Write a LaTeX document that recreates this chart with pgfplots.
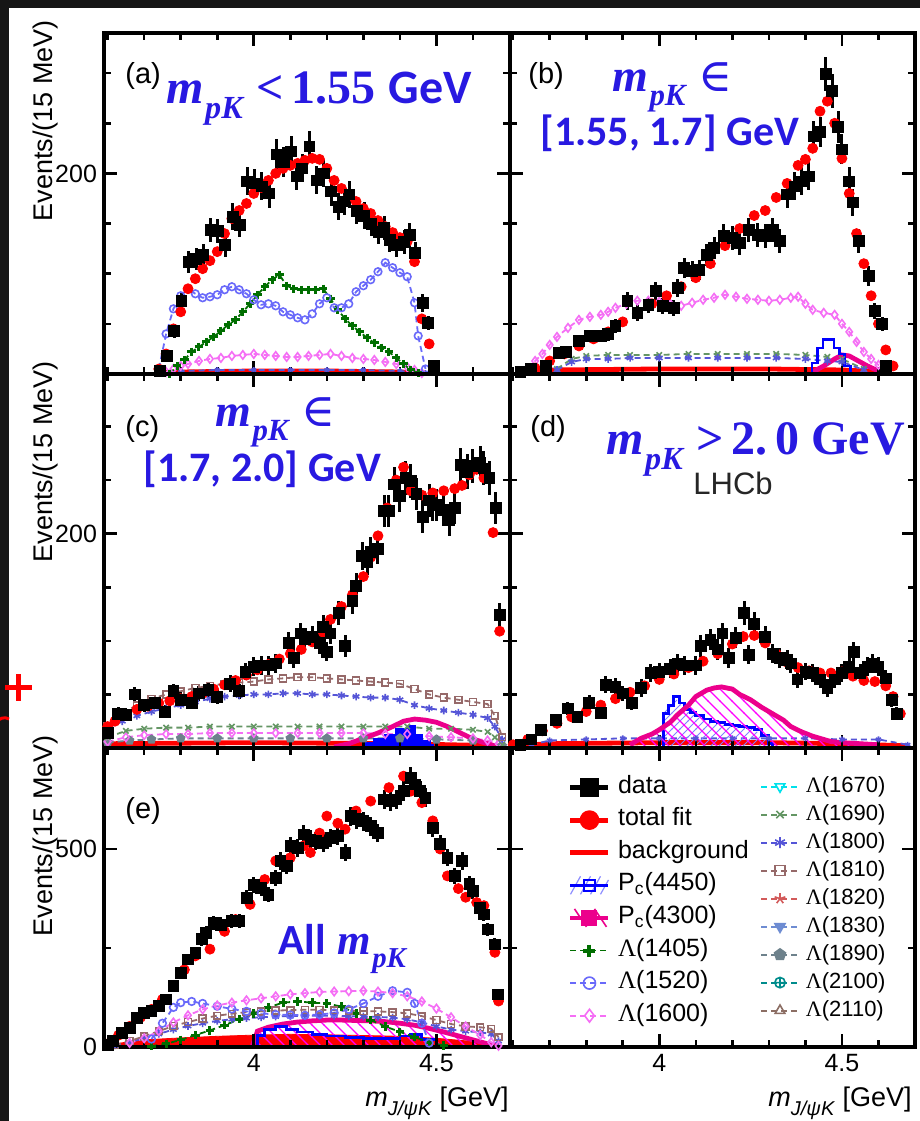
\documentclass[border=0pt]{standalone}
\usepackage{fontspec}
\setmainfont{Liberation Sans}
\newfontfamily\timesf{Liberation Serif}
\newfontfamily\carl{Carlito}
\newfontfamily\djv{DejaVu Serif}
\usepackage{pgfplots}
\usepackage{pgfplotstable}
\pgfplotsset{compat=1.18}
\usetikzlibrary{patterns,plotmarks}

\definecolor{annot}{RGB}{40,25,225}
\definecolor{c1405}{RGB}{0,110,0}
\definecolor{c1520}{RGB}{105,105,250}
\definecolor{c1600}{RGB}{245,110,245}
\definecolor{c1670}{RGB}{0,225,235}
\definecolor{c1690}{RGB}{100,150,100}
\definecolor{c1800}{RGB}{85,85,215}
\definecolor{c1810}{RGB}{150,105,105}
\definecolor{c1820}{RGB}{210,90,90}
\definecolor{c1830}{RGB}{110,140,210}
\definecolor{c1890}{RGB}{110,130,140}
\definecolor{c2100}{RGB}{0,140,140}
\definecolor{c2110}{RGB}{140,110,100}
\definecolor{darkbg}{RGB}{22,22,22}

\pgfdeclarepatternformonly{hatchNW}{\pgfqpoint{-1pt}{-1pt}}{\pgfqpoint{7pt}{7pt}}{\pgfqpoint{6pt}{6pt}}{%
  \pgfsetlinewidth{0.7pt}%
  \pgfpathmoveto{\pgfqpoint{-0.1pt}{6.1pt}}%
  \pgfpathlineto{\pgfqpoint{6.1pt}{-0.1pt}}%
  \pgfusepath{stroke}}
\pgfdeclarepatternformonly{hatchNE}{\pgfqpoint{-1pt}{-1pt}}{\pgfqpoint{5pt}{5pt}}{\pgfqpoint{4pt}{4pt}}{%
  \pgfsetlinewidth{0.45pt}%
  \pgfpathmoveto{\pgfqpoint{-0.1pt}{-0.1pt}}%
  \pgfpathlineto{\pgfqpoint{4.1pt}{4.1pt}}%
  \pgfusepath{stroke}}

\newcommand{\mpk}{{\timesf\bfseries\itshape m\kern0.03em\raisebox{-0.3em}{\fontsize{0.67\fontdimen6\font}{1em}\selectfont pK}}}
\newcommand{\Lam}{{\timesf Λ}}

\pgfplotsset{
  panel/.style={
    scale only axis, width=202.75pt,
    xmin=3.59, xmax=4.70,
    axis line style={line width=2pt},
    tick style={black, line width=1.3pt},
    major tick length=6.5pt, minor tick length=3.5pt,
    tick align=inside,
    xtick={4,4.5}, minor xtick={3.6,3.7,3.8,3.9,4.1,4.2,4.3,4.4,4.6},
    xticklabels={},
    tick label style={font=\fontsize{12.5}{14}\selectfont},
    /pgf/number format/assume math mode=true,
    axis on top,
    anchor=south west,
  },
  row1/.style={height=170.5pt, ymin=0, ymax=340, ytick={200}, minor ytick={50,100,150,250,300}},
  row2/.style={height=187pt, ymin=0, ymax=349, ytick={200}, minor ytick={50,100,150,250,300}},
  row3/.style={height=149.5pt, ymin=0, ymax=755, ytick={0,500}, minor ytick={250}},
  sdata/.style={only marks, mark=square*, mark size=2.7pt, black,
    error bars/.cd, y dir=both, y explicit, x dir=both, x fixed=0.0075,
    error mark=none, error bar style={line width=1.5pt, black}},
  sfit/.style={only marks, mark=*, mark size=2.5pt, red,
    error bars/.cd, y dir=both, y fixed=#1, error mark=none, error bar style={line width=1.1pt, red}},
  sbkg/.style={red, line width=2.4pt, no marks},
  sL1405/.style={color=c1405, densely dashed, line width=0.9pt, mark=+, mark size=2.1pt, mark options={solid, line width=1.5pt}},
  sL1520/.style={color=c1520, densely dashed, line width=0.9pt, mark=o, mark size=1.9pt, mark options={solid, line width=0.8pt}},
  sL1600/.style={color=c1600, densely dashed, line width=0.9pt, mark=diamond, mark size=2.1pt, mark options={solid, line width=0.8pt}},
  sL1670/.style={color=c1670, densely dashed, line width=0.9pt, mark=triangle, mark size=2.1pt, mark options={solid, rotate=180, line width=0.8pt}},
  sL1690/.style={color=c1690, densely dashed, line width=0.9pt, mark=x, mark size=1.9pt, mark options={solid, line width=0.8pt}},
  sL1800/.style={color=c1800, densely dashed, line width=0.9pt, mark=asterisk, mark size=1.9pt, mark options={solid, line width=0.8pt}},
  sL1810/.style={color=c1810, densely dashed, line width=0.9pt, mark=square, mark size=1.7pt, mark options={solid, line width=0.8pt}},
  sL1820/.style={color=c1820, densely dashed, line width=0.9pt, mark=star, mark size=2.1pt, mark options={solid, line width=0.8pt}},
  sL1830/.style={color=c1830, densely dashed, line width=0.9pt, mark=triangle*, mark size=2.1pt, mark options={solid, rotate=180}},
  sL1890/.style={color=c1890, densely dashed, line width=0.9pt, mark=pentagon*, mark size=2pt, mark options={solid}},
  sL2100/.style={color=c2100, densely dashed, line width=0.9pt, mark=oplus, mark size=2pt, mark options={solid, line width=0.8pt}},
  sL2110/.style={color=c2110, densely dashed, line width=0.9pt, mark=triangle, mark size=2.1pt, mark options={solid, line width=0.8pt}},
  sP4450/.style={color=blue, line width=1.4pt, no marks},
  sP4300/.style={color=magenta, line width=2.4pt, no marks},
  legimg/.style={legend image code/.code={\draw[mark repeat=2,mark phase=2] plot coordinates {(0pt,0pt)(9.5pt,0pt)(19pt,0pt)};}},
}

% ---------------- panel (a) ----------------
\pgfplotstableread{
x y e
3.742 3 2
3.762 18 5
3.782 43 7
3.802 73 9
3.822 112 11
3.842 115 11
3.862 119 11
3.882 144 12
3.902 143 12
3.922 129 12
3.942 157 13
3.962 149 12
3.982 192 14
4.002 190 14
4.022 187 14
4.042 180 14
4.062 219 15
4.082 211 15
4.102 222 15
4.117 197 14
4.132 205 14
4.152 227 15
4.172 193 14
4.192 200 14
4.212 182 14
4.232 167 13
4.247 172 13
4.262 179 13
4.282 163 13
4.302 158 13
4.322 150 12
4.342 142 12
4.357 146 12
4.372 134 12
4.392 129 12
4.412 132 12
4.427 139 12
4.442 121 11
4.462 71 9
4.477 51 7
4.492 8 3
}\dataA
\pgfplotstableread{
x y
3.74 5
3.76 20
3.78 45
3.80 62
3.82 85
3.84 95
3.86 105
3.88 113
3.90 122
3.92 140
3.94 155
3.96 163
3.98 170
4.00 180
4.02 186
4.04 193
4.06 200
4.08 205
4.10 208
4.12 210
4.14 213
4.16 215
4.18 214
4.20 205
4.22 193
4.24 185
4.26 177
4.28 172
4.30 165
4.32 160
4.34 153
4.36 147
4.38 141
4.40 136
4.42 132
4.44 112
4.46 55
4.48 30
}\fitA
\pgfplotstableread{
x y
3.74 5
3.76 40
3.78 65
3.80 78
3.82 85
3.84 80
3.86 76
3.88 77
3.90 79
3.92 84
3.94 87
3.96 84
3.98 80
4.00 74
4.02 69
4.04 70
4.06 68
4.08 62
4.10 59
4.12 56
4.14 54
4.16 60
4.18 70
4.20 76
4.22 66
4.24 66
4.26 70
4.28 82
4.30 88
4.32 94
4.34 102
4.36 111
4.38 106
4.40 101
4.42 97
4.44 71
4.45 38
4.47 5
}\lfiveA
\pgfplotstableread{
x y
3.77 0
3.79 8
3.81 14
3.83 22
3.85 27
3.87 32
3.89 37
3.91 43
3.93 49
3.95 54
3.97 62
3.99 70
4.01 79
4.03 87
4.05 94
4.07 99
4.09 88
4.11 85
4.13 84
4.15 84
4.17 84
4.19 85
4.21 75
4.23 64
4.25 55
4.27 48
4.29 42
4.31 36
4.33 31
4.35 26
4.37 22
4.39 16
4.41 10
4.43 4
4.45 1
}\lfourA
\pgfplotstableread{
x y
3.76 2
3.78 5
3.80 8
3.82 10
3.85 13
3.88 15
3.91 16
3.94 18
3.97 19
4.00 20
4.03 19
4.06 18
4.09 17
4.12 17
4.15 18
4.18 19
4.21 20
4.24 18
4.27 16
4.30 15
4.33 14
4.36 12
4.39 10
4.42 7
4.44 4
4.46 1
}\lsixA
\pgfplotstableread{
x y
3.74 1
3.80 3
3.90 4
4.00 4
4.10 4
4.20 4
4.30 4
4.40 3
4.47 1
}\lsmallA
\pgfplotstableread{
x y
3.74 1
3.80 2
4.00 3
4.20 3
4.40 2
4.47 1
}\bkgA

% ---------------- panel (b) ----------------
\pgfplotstableread{
x y e
3.620 2 2
3.649 5 3
3.690 8 3
3.726 21 5
3.745 22 5
3.780 33 6
3.810 38 6
3.840 38 6
3.860 40 7
3.880 48 7
3.913 73 9
3.940 61 8
3.970 69 8
3.990 83 9
4.010 68 8
4.040 66 8
4.050 86 9
4.068 106 10
4.090 103 10
4.110 104 10
4.130 119 11
4.150 126 11
4.177 138 12
4.200 136 12
4.220 131 12
4.245 144 12
4.270 139 12
4.290 138 12
4.310 144 12
4.330 133 12
4.350 179 13
4.370 187 14
4.390 192 14
4.409 197 14
4.423 237 15
4.440 241 15
4.455 299 17
4.473 282 17
4.490 246 16
4.500 224 15
4.520 192 14
4.530 171 13
4.546 133 12
4.573 98 10
4.590 63 8
4.610 50 7
4.620 8 3
}\dataB
\pgfplotstableread{
x y
3.62 2
3.66 6
3.70 13
3.74 20
3.78 28
3.82 35
3.86 42
3.90 52
3.94 60
3.98 70
4.02 78
4.06 87
4.10 96
4.14 110
4.18 128
4.22 145
4.26 158
4.29 163
4.32 176
4.35 190
4.38 208
4.40 214
4.42 225
4.44 262
4.46 272
4.48 250
4.50 215
4.52 180
4.54 140
4.56 110
4.58 78
4.60 50
4.62 24
4.64 8
}\fitB
\pgfplotstableread{
x y
3.64 5
3.66 13
3.68 20
3.70 29
3.72 37
3.75 46
3.78 54
3.81 57
3.84 59
3.86 62
3.88 66
3.91 70
3.94 73
3.97 73
4.00 72
4.03 70
4.06 68
4.09 71
4.12 74
4.15 76
4.18 79
4.21 77
4.24 75
4.27 74
4.30 73
4.33 74
4.36 76
4.38 77
4.40 70
4.42 64
4.45 61
4.48 59
4.50 50
4.52 42
4.54 32
4.56 22
4.58 15
4.60 9
4.62 4
}\lsixB
\pgfplotstableread{
x y
3.72 5
3.76 15
3.80 18
3.86 19
3.92 19
4.00 19
4.08 20
4.16 20
4.24 20
4.32 20
4.40 19
4.46 17
4.50 15
4.56 5
}\lnineB
\pgfplotstableread{
x y
3.72 4
3.76 12
3.80 15
3.86 15
3.92 16
4.00 16
4.08 16
4.16 16
4.24 16
4.32 16
4.40 15
4.46 13
4.50 12
4.56 4
}\leightB
\pgfplotstableread{
x y
4.405 0
4.418 11
4.433 26
4.448 34
4.463 34
4.478 26
4.493 20
4.508 8
4.523 0
}\pcfourB
\pgfplotstableread{
x y
4.42 2
4.45 8
4.48 15
4.50 19
4.52 18
4.54 14
4.57 8
4.60 3
4.62 1
}\pcthreeB
\pgfplotstableread{
x y
3.66 2
3.70 4
4.00 5
4.30 5
4.50 4
4.62 2
}\bkgB

% ---------------- panel (c) ----------------
\pgfplotstableread{
x y e
3.600 14 5
3.629 32 6
3.650 31 6
3.674 50 7
3.700 40 6
3.730 42 6
3.757 34 6
3.780 53 7
3.800 45 7
3.830 42 6
3.850 51 7
3.876 54 7
3.900 48 7
3.935 60 8
3.960 53 7
3.977 71 8
4.000 76 9
4.020 77 9
4.040 77 9
4.060 79 9
4.096 98 10
4.110 84 9
4.128 107 10
4.140 102 10
4.160 104 10
4.180 98 10
4.190 113 11
4.200 90 9
4.210 107 10
4.233 126 11
4.250 95 10
4.270 137 12
4.280 151 12
4.297 179 13
4.310 174 13
4.320 183 14
4.340 186 14
4.357 221 15
4.370 221 15
4.384 246 16
4.400 235 15
4.416 252 16
4.430 249 16
4.445 237 15
4.462 216 15
4.480 231 15
4.490 227 15
4.500 227 15
4.520 222 15
4.535 213 15
4.550 224 15
4.567 264 16
4.585 258 16
4.600 263 16
4.620 266 16
4.630 261 16
4.645 252 16
4.663 224 15
4.673 124 11
}\dataC
\pgfplotstableread{
x y
3.60 20
3.62 25
3.65 31
3.68 36
3.71 39
3.74 42
3.77 44
3.80 46
3.83 48
3.86 51
3.89 55
3.92 59
3.95 63
3.98 68
4.01 73
4.04 78
4.07 83
4.10 88
4.13 92
4.16 99
4.19 108
4.21 120
4.24 132
4.27 143
4.30 160
4.32 178
4.34 198
4.365 224
4.39 250
4.41 262
4.43 240
4.46 236
4.49 238
4.52 240
4.55 242
4.57 245
4.59 255
4.61 260
4.63 252
4.655 201
4.673 109
}\fitC
\pgfplotstableread{
x y
3.60 20
3.64 32
3.68 40
3.72 46
3.76 50
3.80 53
3.84 56
3.88 58
3.92 60
3.96 61
4.00 62
4.04 64
4.08 65
4.12 66
4.16 66
4.20 65
4.24 64
4.28 63
4.32 62
4.36 61
4.40 60
4.44 55
4.48 50
4.52 47
4.56 45
4.60 43
4.64 41
4.66 30
4.68 10
}\ltenC
\pgfplotstableread{
x y
3.60 18
3.64 25
3.68 30
3.72 34
3.76 37
3.80 40
3.84 43
3.88 46
3.92 48
3.96 49
4.00 50
4.04 50
4.08 51
4.12 51
4.16 50
4.20 50
4.24 49
4.28 48
4.32 47
4.36 47
4.40 45
4.44 40
4.48 37
4.52 35
4.56 33
4.60 31
4.64 28
4.66 20
4.68 8
}\leightC
\pgfplotstableread{
x y
3.60 10
3.65 16
3.70 18
3.76 19
3.82 19
3.88 20
3.94 20
4.00 20
4.06 20
4.12 20
4.18 20
4.24 20
4.30 20
4.36 20
4.42 20
4.48 18
4.54 18
4.60 17
4.64 15
4.66 10
4.68 3
}\lnineC
\pgfplotstableread{
x y
3.60 6
3.65 10
3.70 12
3.76 13
3.82 13
3.88 14
3.94 14
4.00 14
4.06 14
4.12 14
4.18 14
4.24 14
4.30 14
4.36 13
4.42 13
4.48 11
4.54 10
4.60 9
4.64 7
4.67 4
}\lsixC
\pgfplotstableread{
x y
3.60 5
3.66 7
3.72 8
3.80 9
3.90 9
4.00 9
4.10 9
4.20 9
4.30 9
4.40 9
4.50 8
4.60 7
4.68 2
}\lgreyC
\pgfplotstableread{
x y
4.22 1
4.26 4
4.30 9
4.34 14
4.38 20
4.41 25
4.44 27
4.47 26
4.50 24
4.53 20
4.56 15
4.59 10
4.62 6
4.66 2
}\pcthreeC
\pgfplotstableread{
x y
4.29 0
4.30 4
4.33 8
4.36 12
4.39 17
4.42 20
4.44 12
4.46 6
4.48 2
4.49 0
}\pcfourC
\pgfplotstableread{
x y
3.60 4
4.00 5
4.40 4
4.68 2
}\bkgC

% ---------------- panel (d) ----------------
\pgfplotstableread{
x y e
3.620 3 2
3.650 8 3
3.676 17 4
3.717 26 5
3.749 37 6
3.776 29 5
3.808 42 7
3.840 33 6
3.854 59 8
3.880 57 8
3.900 51 7
3.925 42 7
3.950 56 8
3.977 70 8
4.000 71 8
4.030 74 9
4.050 79 9
4.070 77 9
4.100 77 9
4.113 95 10
4.140 101 10
4.160 92 10
4.173 107 10
4.190 84 9
4.210 103 10
4.232 126 11
4.245 87 9
4.260 116 11
4.290 104 10
4.310 88 9
4.330 84 9
4.350 82 9
4.360 79 9
4.378 64 8
4.400 71 8
4.420 70 8
4.440 64 8
4.460 56 8
4.480 64 8
4.500 70 8
4.520 76 9
4.532 90 9
4.550 70 8
4.570 76 9
4.585 79 9
4.600 76 9
4.620 65 8
4.637 45 7
4.650 32 6
}\dataD
\pgfplotstableread{
x y
3.60 3
3.64 8
3.68 16
3.72 23
3.76 29
3.80 34
3.84 40
3.88 46
3.92 52
3.96 58
4.00 64
4.04 69
4.08 75
4.12 81
4.16 88
4.20 97
4.23 104
4.26 105
4.29 98
4.32 88
4.35 80
4.38 75
4.41 72
4.44 70
4.47 70
4.50 71
4.53 67
4.56 63
4.59 62
4.62 58
4.64 48
4.66 32
}\fitD
\pgfplotstableread{
x y
3.92 3
3.95 9
3.98 13
4.00 17
4.03 24
4.05 31
4.08 40
4.10 48
4.13 54
4.15 56
4.17 57
4.20 55
4.22 50
4.25 45
4.28 38
4.31 32
4.34 26
4.36 20
4.39 15
4.42 11
4.45 8
4.47 6
4.50 5
4.55 4
4.60 3
}\pcthreeD
\pgfplotstableread{
x y
4.000 0
4.012 32
4.025 40
4.040 48
4.055 42
4.070 36
4.085 33
4.100 30
4.120 27
4.140 25
4.160 24
4.180 22
4.200 21
4.220 20
4.240 19
4.260 17
4.280 12
4.300 4
4.310 0
}\pcfourD
\pgfplotstableread{
x y
3.65 3
3.70 7
3.80 8
3.90 9
4.00 9
4.10 9
4.20 9
4.30 9
4.40 9
4.50 8
4.60 8
4.68 3
}\lflatD
\pgfplotstableread{
x y
3.60 2
3.70 4
4.00 5
4.30 5
4.50 4
4.68 2
}\bkgD

% ---------------- panel (e) ----------------
\pgfplotstableread{
x y e
3.600 5 3
3.615 15 4
3.640 36 6
3.660 48 7
3.680 74 9
3.700 87 9
3.720 91 10
3.740 104 10
3.760 120 11
3.780 154 12
3.800 188 14
3.820 221 15
3.840 238 15
3.858 272 16
3.870 289 17
3.890 314 18
3.910 309 18
3.940 318 18
3.960 318 18
3.981 377 19
4.000 410 20
4.020 402 20
4.040 385 20
4.060 427 21
4.073 470 22
4.090 457 21
4.100 508 23
4.120 503 22
4.137 537 23
4.155 524 23
4.170 520 23
4.190 516 23
4.210 528 23
4.230 533 23
4.251 491 22
4.265 583 24
4.280 575 24
4.300 570 24
4.320 558 24
4.340 541 23
4.357 625 25
4.375 621 25
4.390 625 25
4.410 646 25
4.430 680 26
4.440 663 26
4.455 646 25
4.470 630 25
4.490 554 24
4.510 512 23
4.530 478 22
4.550 432 21
4.570 470 22
4.590 411 20
4.600 394 20
4.618 352 19
4.630 335 18
4.640 297 17
4.659 259 16
4.668 133 12
}\dataE
\pgfplotstableread{
x y
3.60 8
3.63 30
3.66 52
3.69 75
3.72 95
3.75 120
3.78 155
3.81 195
3.84 230
3.88 247
3.92 292
3.95 322
3.99 360
4.03 423
4.06 470
4.10 478
4.137 508
4.155 491
4.18 540
4.20 583
4.23 565
4.25 550
4.28 596
4.32 621
4.37 655
4.41 684
4.43 646
4.46 617
4.49 571
4.51 500
4.53 432
4.56 400
4.58 378
4.61 365
4.63 357
4.66 239
4.67 116
}\fitE
\pgfplotstableread{
x y
3.66 10
3.70 22
3.74 40
3.78 62
3.82 80
3.86 95
3.90 105
3.94 112
3.98 118
4.02 123
4.06 128
4.10 133
4.14 136
4.18 139
4.22 140
4.26 141
4.30 142
4.34 140
4.38 136
4.42 128
4.46 115
4.50 97
4.54 75
4.58 52
4.62 30
4.65 12
4.67 3
}\lsixE
\pgfplotstableread{
x y
3.72 20
3.75 60
3.78 100
3.80 112
3.83 115
3.86 110
3.90 103
3.94 96
3.98 90
4.02 85
4.06 82
4.10 81
4.14 80
4.18 82
4.22 86
4.26 95
4.30 110
4.34 128
4.38 142
4.42 138
4.44 110
4.46 60
4.48 10
}\lfiveE
\pgfplotstableread{
x y
3.72 2
3.76 8
3.80 18
3.84 30
3.88 42
3.92 55
3.96 70
4.00 85
4.04 100
4.08 112
4.12 115
4.16 112
4.20 110
4.24 102
4.28 85
4.32 68
4.36 52
4.40 38
4.44 25
4.48 12
4.52 4
}\lfourE
\pgfplotstableread{
x y
3.62 5
3.66 15
3.70 27
3.74 40
3.78 53
3.82 63
3.86 72
3.90 79
3.94 84
3.98 88
4.02 90
4.06 92
4.10 93
4.14 94
4.18 94
4.22 93
4.26 92
4.30 91
4.34 90
4.38 88
4.42 85
4.46 78
4.50 68
4.54 58
4.58 52
4.62 50
4.65 46
4.67 25
}\ltenE
\pgfplotstableread{
x y
3.62 4
3.66 12
3.70 22
3.74 33
3.78 44
3.82 53
3.86 60
3.90 66
3.94 70
3.98 73
4.02 75
4.06 77
4.10 78
4.14 79
4.18 79
4.22 79
4.26 78
4.30 77
4.34 76
4.38 74
4.42 70
4.46 62
4.50 52
4.54 44
4.58 40
4.62 37
4.65 33
4.67 15
}\leightE
\pgfplotstableread{
x y
3.995 0
4.01 40
4.04 50
4.08 58
4.12 63
4.16 66
4.20 68
4.24 68
4.28 67
4.32 66
4.36 64
4.40 60
4.44 55
4.48 47
4.52 38
4.56 28
4.60 18
4.64 8
4.67 2
}\pcthreeE
\pgfplotstableread{
x y
4.00 0
4.01 30
4.03 45
4.06 52
4.09 45
4.12 38
4.16 32
4.20 28
4.25 25
4.30 22
4.35 22
4.40 28
4.43 32
4.46 18
4.50 5
4.52 0
}\pcfourE
\pgfplotstableread{
x y
3.60 5
3.65 12
3.70 18
3.80 23
3.90 27
4.00 30
4.10 32
4.20 31
4.30 29
4.40 27
4.50 22
4.60 14
4.65 8
4.68 2
}\bkgE

\begin{document}
\begin{tikzpicture}
\useasboundingbox (0,0) rectangle (460pt,560.5pt);
\fill[white] (0,0) rectangle (460pt,560.5pt);
\fill[darkbg] (0,0) rectangle (4.5pt,560.5pt);
\fill[darkbg] (0,556.5pt) rectangle (460pt,560.5pt);

% (a)
\begin{axis}[panel, row1, at={(52pt,373.5pt)}, yticklabels={200}]
\addplot[sbkg] table {\bkgA};
\addplot[sL1800, mark size=1.4pt] table {\lsmallA};
\addplot[sL1600] table {\lsixA};
\addplot[sL1405] table {\lfourA};
\addplot[sL1520] table {\lfiveA};
\addplot[sfit=4] table {\fitA};
\addplot[sdata] table[x index=0,y index=1,y error index=2] {\dataA};
\end{axis}

% (b)
\begin{axis}[panel, row1, at={(254.75pt,373.5pt)}, yticklabels={}]
\addplot[sbkg] table {\bkgB};
\addplot[sL1690] table {\lnineB};
\addplot[sL1800] table {\leightB};
\addplot[sL1600] table {\lsixB};
\addplot[sP4300] table {\pcthreeB};
\addplot[sP4450, const plot] table {\pcfourB};
\addplot[sfit=4] table {\fitB};
\addplot[sdata] table[x index=0,y index=1,y error index=2] {\dataB};
\end{axis}

% (c)
\begin{axis}[panel, row2, at={(52pt,186.5pt)}, yticklabels={200}]
\addplot[sbkg] table {\bkgC};
\addplot[sL1890] table {\lgreyC};
\addplot[sL1600] table {\lsixC};
\addplot[sL1690] table {\lnineC};
\addplot[sL1800] table {\leightC};
\addplot[sL1810] table {\ltenC};
\addplot[sP4450, const plot, fill=blue] table {\pcfourC} \closedcycle;
\addplot[sP4300] table {\pcthreeC};
\addplot[sfit=4] table {\fitC};
\addplot[sdata] table[x index=0,y index=1,y error index=2] {\dataC};
\end{axis}

% (d)
\begin{axis}[panel, row2, at={(254.75pt,186.5pt)}, yticklabels={}]
\addplot[sbkg] table {\bkgD};
\addplot[sL1800, mark size=1.5pt] table {\lflatD};
\addplot[draw=none, pattern=hatchNE, pattern color=blue!50] table {\pcfourD} \closedcycle;
\addplot[sP4450, const plot] table {\pcfourD};
\addplot[draw=none, pattern=hatchNW, pattern color=magenta] table {\pcthreeD} \closedcycle;
\addplot[sP4300] table {\pcthreeD};
\addplot[sfit=4] table {\fitD};
\addplot[sdata] table[x index=0,y index=1,y error index=2] {\dataD};
\end{axis}

% (e)
\begin{axis}[panel, row3, at={(52pt,37pt)}, yticklabels={0,500}, xticklabels={4,4.5}]
\addplot[red, fill=red, draw=red] table {\bkgE} \closedcycle;
\addplot[draw=none, pattern=hatchNW, pattern color=magenta] table {\pcthreeE} \closedcycle;
\addplot[sP4300] table {\pcthreeE};
\addplot[sP4450, const plot] table {\pcfourE};
\addplot[sL1405] table {\lfourE};
\addplot[sL1800] table {\leightE};
\addplot[sL1810] table {\ltenE};
\addplot[sL1520] table {\lfiveE};
\addplot[sL1600] table {\lsixE};
\addplot[sfit=10] table {\fitE};
\addplot[sdata] table[x index=0,y index=1,y error index=2] {\dataE};
\end{axis}

% legend panel
\begin{axis}[panel, row3, at={(254.75pt,37pt)}, yticklabels={}, xticklabels={4,4.5},
  legimg,
  legend cell align=left,
  legend style={draw=none, fill=none, inner sep=0pt, outer sep=0pt,
    at={(axis description cs:0.144,0.903)}, anchor=north west,
    font=\fontsize{12.5}{13}\selectfont, row sep=5.8pt,
    nodes={inner xsep=3.5pt, inner ysep=0pt, text height=8pt, text depth=2.5pt}}]
\addlegendimage{black, line width=2.6pt, mark=square*, mark size=3.3pt}
\addlegendentry{data}
\addlegendimage{red, line width=2.6pt, mark=*, mark size=3.6pt}
\addlegendentry{total fit}
\addlegendimage{red, line width=2.6pt}
\addlegendentry{background}
\addlegendimage{blue, line width=1.4pt, mark=square, mark size=2.6pt, mark options={line width=1pt},
  legend image code/.code={\draw[blue!45, line width=0.6pt] (0pt,-4.5pt) -- (5pt,4.5pt) (5pt,-4.5pt) -- (10pt,4.5pt) (10pt,-4.5pt) -- (15pt,4.5pt) (15pt,-4.5pt) -- (19pt,2.7pt);
  \draw[mark repeat=2,mark phase=2] plot coordinates {(0pt,0pt)(9.5pt,0pt)(19pt,0pt)};}}
\addlegendentry{P\textsubscript{c}(4450)}
\addlegendimage{magenta, line width=2pt, mark=square*, mark size=3pt,
  legend image code/.code={\draw[magenta, line width=0.8pt] (2pt,4.5pt) -- (8pt,-4.5pt) (12pt,4.5pt) -- (18pt,-4.5pt);
  \draw[mark repeat=2,mark phase=2] plot coordinates {(0pt,0pt)(9.5pt,0pt)(19pt,0pt)};}}
\addlegendentry{P\textsubscript{c}(4300)}
\addlegendimage{sL1405, mark size=3pt, mark options={solid, line width=2pt}}
\addlegendentry{\Lam(1405)}
\addlegendimage{sL1520, mark size=3pt}
\addlegendentry{\Lam(1520)}
\addlegendimage{sL1600, mark size=3.2pt}
\addlegendentry{\Lam(1600)}
\end{axis}

\begin{axis}[panel, row3, at={(254.75pt,37pt)}, hide axis,
  legimg,
  legend cell align=left,
  legend style={draw=none, fill=none, inner sep=0pt, outer sep=0pt,
    at={(axis description cs:0.618,0.906)}, anchor=north west,
    font=\fontsize{11}{12}\selectfont, row sep=3.5pt,
    nodes={inner xsep=3pt, inner ysep=0pt, text height=8pt, text depth=2.5pt}}]
\addlegendimage{sL1670, mark size=2.8pt}
\addlegendentry{\Lam(1670)}
\addlegendimage{sL1690, mark size=2.6pt}
\addlegendentry{\Lam(1690)}
\addlegendimage{sL1800, mark size=2.8pt}
\addlegendentry{\Lam(1800)}
\addlegendimage{sL1810, mark size=2.5pt}
\addlegendentry{\Lam(1810)}
\addlegendimage{sL1820, mark size=2.8pt}
\addlegendentry{\Lam(1820)}
\addlegendimage{sL1830, mark size=2.8pt}
\addlegendentry{\Lam(1830)}
\addlegendimage{sL1890, mark size=2.8pt}
\addlegendentry{\Lam(1890)}
\addlegendimage{sL2100, mark size=2.6pt}
\addlegendentry{\Lam(2100)}
\addlegendimage{sL2110, mark size=2.8pt}
\addlegendentry{\Lam(2110)}
\end{axis}

% axis titles
\foreach \yy in {550.5,380,193} {
  \node[rotate=90, anchor=base east, inner sep=0pt, font=\fontsize{13.5}{14}\selectfont] at (26.5pt,\yy pt) {Events/(15 MeV)};
}
\foreach \xx in {254.5,456} {
  \node[anchor=base east, inner sep=0pt, font=\fontsize{13.5}{14}\selectfont] at (\xx pt,7.5pt)
    {\textit{m}\raisebox{-0.35em}{\fontsize{10}{10}\selectfont\textit{J/ψK}} [GeV]};
}

% panel letters
\node[anchor=base west, inner sep=0pt, font=\fontsize{14.5}{15}\selectfont] at (62.5pt,518.5pt) {(a)};
\node[anchor=base west, inner sep=0pt, font=\fontsize{14.5}{15}\selectfont] at (264pt,518.5pt) {(b)};
\node[anchor=base west, inner sep=0pt, font=\fontsize{14.5}{15}\selectfont] at (62.5pt,342pt) {(c)};
\node[anchor=base west, inner sep=0pt, font=\fontsize{14.5}{15}\selectfont] at (265pt,342pt) {(d)};
\node[anchor=base west, inner sep=0pt, font=\fontsize{14.5}{15}\selectfont] at (62.5pt,151pt) {(e)};
\node[anchor=base west, inner sep=0pt, font=\fontsize{15.5}{16}\selectfont, black!85] at (346.5pt,313pt) {LHCb};

% blue annotations
\node[anchor=base west, inner sep=0pt, annot, font=\fontsize{24}{25}\selectfont] at (83pt,508.5pt)
  {\mpk\ {\timesf\bfseries <\,1.55} {\carl\bfseries GeV}};
\node[anchor=base west, inner sep=0pt, annot, font=\fontsize{23}{24}\selectfont] at (306pt,514.5pt)
  {\mpk\ {\djv ∈}};
\node[anchor=base west, inner sep=0pt, annot, font=\fontsize{21}{22}\selectfont] at (270pt,487.5pt)
  {\carl\bfseries [1.55, 1.7] GeV};
\node[anchor=base west, inner sep=0pt, annot, font=\fontsize{23}{24}\selectfont] at (107.5pt,347pt)
  {\mpk\ {\djv ∈}};
\node[anchor=base west, inner sep=0pt, annot, font=\fontsize{21}{22}\selectfont] at (71.5pt,319.5pt)
  {\carl\bfseries [1.7, 2.0] GeV};
\node[anchor=base west, inner sep=0pt, annot, font=\fontsize{24}{25}\selectfont] at (303pt,333pt)
  {\mpk\ {\timesf\bfseries >\,2.\,0 GeV}};
\node[anchor=base west, inner sep=0pt, annot, font=\fontsize{21.5}{22}\selectfont] at (139pt,83pt)
  {{\carl\bfseries All} \mpk};

% slide decorations
\draw[red, line width=2.2pt] (2.5pt,216.75pt) -- (16pt,216.75pt) (9.25pt,210pt) -- (9.25pt,223.5pt);
\draw[red, line width=1.5pt] (4.5pt,201pt) arc[start angle=60, end angle=180, radius=4.5pt];
\end{tikzpicture}
\end{document}
